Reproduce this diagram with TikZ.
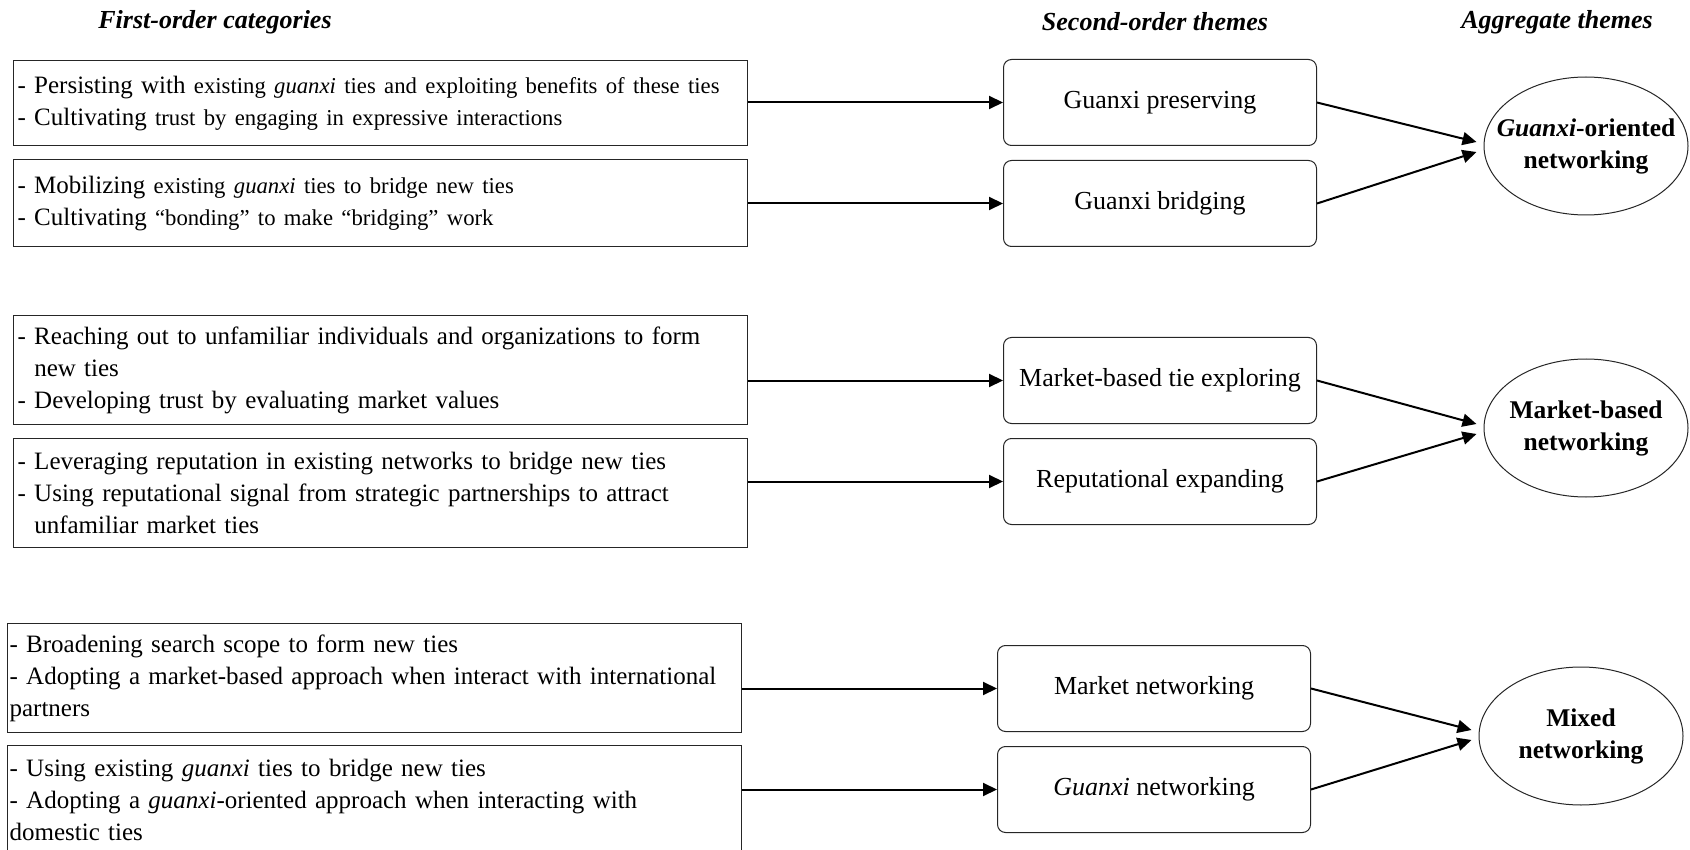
\documentclass[tikz,border=0pt]{standalone}
\usepackage{fontspec}
\setmainfont{Liberation Serif}
\usetikzlibrary{shapes.geometric, arrows.meta}
\newcommand{\subtxt}[1]{{\fontsize{22.7}{32}\selectfont #1}}

\begin{document}
\begin{tikzpicture}[x=1pt, y=-1pt,
    every node/.style={font=\fontsize{25}{32}\selectfont},
    head/.style={font=\fontsize{26}{30}\selectfont\bfseries\itshape},
    catbox/.style={draw=black!85, line width=1.2pt, anchor=north west, inner xsep=4pt, inner ysep=0pt, text width=726pt, align=left},
    themebox/.style={draw=black!85, line width=1pt, rounded corners=8pt, minimum width=313pt, minimum height=86pt, anchor=north west, font=\fontsize{26}{30}\selectfont},
    aggnode/.style={ellipse, draw=black!85, line width=1pt, minimum width=204pt, minimum height=138pt, inner xsep=-20pt, inner ysep=0pt, align=center, font=\fontsize{25.5}{32}\selectfont\bfseries},
    arr/.style={line width=2pt, -{Triangle[length=14pt, width=13pt]}}]
  \useasboundingbox (0,0) rectangle (1690,850);

  \node[head] (h1) at (215,22) {First-order categories};
  \node[head] (h2) at (1155,22) {Second-order themes};
  \node[head] (h3) at (1557,22) {Aggregate themes};

  \node[catbox, minimum height=85pt] (c1) at (13,60) {- Persisting with \subtxt{existing \textit{guanxi} ties and exploiting benefits of these ties}\\- Cultivating \subtxt{trust by engaging in expressive interactions}};
  \node[catbox, minimum height=87pt] (c2) at (13,159) {- Mobilizing \subtxt{existing \textit{guanxi} ties to bridge new ties}\\- Cultivating \subtxt{``bonding'' to make ``bridging'' work}};
  \node[catbox, minimum height=109pt] (c3) at (13,315) {- Reaching out to unfamiliar individuals and organizations to form\\\phantom{- }new ties\\- Developing trust by evaluating market values};
  \node[catbox, minimum height=109pt] (c4) at (13,438) {- Leveraging reputation in existing networks to bridge new ties\\- Using reputational signal from strategic partnerships to attract\\\phantom{- }unfamiliar market ties};
  \node[catbox, minimum height=109pt, inner xsep=2pt, text width=730pt] (c5) at (7,623) {- Broadening search scope to form new ties\\- Adopting a market-based approach when interact with international\\partners};
  \node[catbox, minimum height=109pt, inner xsep=2pt, text width=730pt] (c6) at (7,745) {- Using existing \textit{guanxi} ties to bridge new ties\\- Adopting a \textit{guanxi}-oriented approach when interacting with\\domestic ties};

  \node[themebox] (t1) at (1003,59) {Guanxi preserving};
  \node[themebox] (t2) at (1003,160) {Guanxi bridging};
  \node[themebox] (t3) at (1003,337) {Market-based tie exploring};
  \node[themebox] (t4) at (1003,438) {Reputational expanding};
  \node[themebox] (t5) at (997,645) {Market networking};
  \node[themebox] (t6) at (997,746) {\textit{Guanxi} networking};

  \node[aggnode] (a1) at (1586,146) {\textit{Guanxi}-oriented\\networking};
  \node[aggnode] (a2) at (1586,428) {Market-based\\networking};
  \node[aggnode] (a3) at (1581,736) {Mixed\\networking};

  \draw[arr] (c1.east |- t1.west) -- (t1.west);
  \draw[arr] (c2.east |- t2.west) -- (t2.west);
  \draw[arr] (c3.east |- t3.west) -- (t3.west);
  \draw[arr] (c4.east |- t4.west) -- (t4.west);
  \draw[arr] (c5.east |- t5.west) -- (t5.west);
  \draw[arr] (c6.east |- t6.west) -- (t6.west);

  \draw[arr] (t1.east) -- ([shift={(-7,-4)}]a1.west);
  \draw[arr] (t2.east) -- ([shift={(-7,6)}]a1.west);
  \draw[arr] (t3.east) -- ([shift={(-7,-4)}]a2.west);
  \draw[arr] (t4.east) -- ([shift={(-7,6)}]a2.west);
  \draw[arr] (t5.east) -- ([shift={(-7,-6)}]a3.west);
  \draw[arr] (t6.east) -- ([shift={(-7,4)}]a3.west);
\end{tikzpicture}
\end{document}
